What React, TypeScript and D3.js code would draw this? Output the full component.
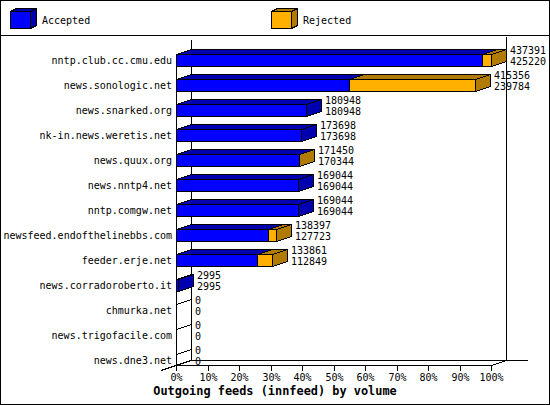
import React from "react";
import * as d3 from "d3";

// Outgoing innfeed peers, ordered by offered volume
const categories = [
  "nntp.club.cc.cmu.edu",
  "news.sonologic.net",
  "news.snarked.org",
  "nk-in.news.weretis.net",
  "news.quux.org",
  "news.nntp4.net",
  "nntp.comgw.net",
  "newsfeed.endofthelinebbs.com",
  "feeder.erje.net",
  "news.corradoroberto.it",
  "chmurka.net",
  "news.trigofacile.com",
  "news.dne3.net",
];
const offered = [437391, 415356, 180948, 173698, 171450, 169044, 169044, 138397, 133861, 2995, 0, 0, 0];
const accepted = [425220, 239784, 180948, 173698, 170344, 169044, 169044, 127723, 112849, 2995, 0, 0, 0];
const percentTicks = [0, 10, 20, 30, 40, 50, 60, 70, 80, 90, 100];
const seriesNames = ["Accepted", "Rejected"];

const W = 550;
const H = 405;
const FONT = "'DejaVu Sans Mono', 'Liberation Mono', monospace";
const BLUE = "#0000ff";
const BLUE_DARK = "#0000b0";
const ORANGE = "#ffb000";
const ORANGE_DARK = "#b07b00";

// depth of the 3D projection
const DX = 15;
const DY = 5;

const x0 = 176;
const x1 = 491;
const floorY = 365;

const maxVal = d3.max(offered) as number;
const pct = d3.scaleLinear().domain([0, 100]).range([x0, x1]);
const xv = (v: number) => pct((v / maxVal) * 100);
const y = d3.scalePoint<string>().domain(categories).range([60, 360]);

function pts(p: [number, number][]) {
  return p.map((q) => q.join(",")).join(" ");
}

function Box({ xa, xb, yt, yb, front, dark }: { xa: number; xb: number; yt: number; yb: number; front: string; dark: string }) {
  return (
    <g stroke="#000" strokeWidth={1} strokeLinejoin="miter">
      <polygon points={pts([[xa, yt], [xb, yt], [xb + DX, yt - DY], [xa + DX, yt - DY]])} fill={dark} />
      <polygon points={pts([[xb, yt], [xb, yb], [xb + DX, yb - DY], [xb + DX, yt - DY]])} fill={dark} />
      <rect x={xa} y={yt} width={Math.max(0, xb - xa)} height={yb - yt} fill={front} />
    </g>
  );
}

function Cube({ x, yTop, fill, dark }: { x: number; yTop: number; fill: string; dark: string }) {
  const w = 20;
  const h = 17;
  const dx = 6;
  const dy = 3;
  return (
    <g stroke="#000" strokeWidth={1}>
      <polygon points={pts([[x, yTop], [x + w, yTop], [x + w + dx, yTop - dy], [x + dx, yTop - dy]])} fill={dark} />
      <polygon points={pts([[x + w, yTop], [x + w, yTop + h], [x + w + dx, yTop + h - dy], [x + w + dx, yTop - dy]])} fill={dark} />
      <rect x={x} y={yTop} width={w} height={h} fill={fill} />
    </g>
  );
}

export default function App() {
  const rows = categories.map((c, i) => ({
    c,
    cy: Math.round(y(c) as number) + 0.5,
    off: offered[i],
    acc: accepted[i],
  }));

  return (
    <div style={{ position: "fixed", left: 0, top: 0 }}>
      <svg width={W} height={H} style={{ display: "block", background: "#fff" }} shapeRendering="crispEdges">
        <rect x={0.5} y={0.5} width={W - 1} height={H - 1} fill="#fff" stroke="#000" />
        <line x1={0} x2={W} y1={35.5} y2={35.5} stroke="#000" />

        {/* legend */}
        <Cube x={10.5} yTop={11.5} fill={BLUE} dark={BLUE_DARK} />
        <text x={42} y={24} fontFamily={FONT} fontSize={10} fill="#000">{seriesNames[0]}</text>
        <Cube x={271.5} yTop={11.5} fill={ORANGE} dark={ORANGE_DARK} />
        <text x={303} y={24} fontFamily={FONT} fontSize={10} fill="#000">{seriesNames[1]}</text>

        {/* walls and floor */}
        <g stroke="#000" strokeWidth={1}>
          <line x1={x0 + DX + 0.5} x2={x0 + DX + 0.5} y1={40} y2={floorY - DY + 0.5} />
          <line x1={x1 + DX + 0.5} x2={x1 + DX + 0.5} y1={37} y2={floorY - DY + 0.5} />
          <line x1={x0 + DX} x2={528} y1={floorY - DY + 0.5} y2={floorY - DY + 0.5} />
          <line x1={x0 - DX} y1={floorY + DY + 0.5} x2={x0 + DX} y2={floorY - DY + 0.5} />
          <line x1={x0 + 0.5} x2={x0 + 0.5} y1={rows[0].cy - 6} y2={floorY + DY + 0.5} />
          <line x1={x0} x2={x1 + 0.5} y1={floorY + 0.5} y2={floorY + 0.5} />
          <line x1={x1 + 0.5} y1={floorY + 0.5} x2={x1 + DX + 0.5} y2={floorY - DY + 0.5} />
          {percentTicks.map((t) => (
            <line key={t} x1={Math.round(pct(t)) + 0.5} x2={Math.round(pct(t)) + 0.5} y1={floorY} y2={floorY + 5.5} />
          ))}
        </g>
        {percentTicks.map((t) => (
          <text key={t} x={Math.round(pct(t)) + 0.5} y={381} textAnchor="middle" fontFamily={FONT} fontSize={10} fill="#000">
            {t}%
          </text>
        ))}

        {/* bars */}
        {rows.map((r) => {
          const xa = Math.round(xv(r.acc)) + 0.5;
          const xt = Math.round(xv(r.off)) + 0.5;
          const yt = r.cy - 6;
          const yb = r.cy + 6;
          return (
            <g key={r.c}>
              {r.off > 0 ? (
                <>
                  <Box xa={x0 + 0.5} xb={xa} yt={yt} yb={yb} front={BLUE} dark={BLUE_DARK} />
                  {r.off > r.acc && <Box xa={xa} xb={xt} yt={yt} yb={yb} front={ORANGE} dark={ORANGE_DARK} />}
                </>
              ) : (
                <line x1={x0 + 0.5} y1={yt} x2={x0 + DX + 0.5} y2={yt - DY} stroke="#000" />
              )}
              <text x={172} y={r.cy + 3.5} textAnchor="end" fontFamily={FONT} fontSize={10} fill="#000">
                {r.c}
              </text>
              <text x={Math.round(xv(r.off)) + 19} y={r.cy - 7} fontFamily={FONT} fontSize={10} fill="#000">
                {r.off}
              </text>
              <text x={Math.round(xv(r.off)) + 19} y={r.cy + 4} fontFamily={FONT} fontSize={10} fill="#000">
                {r.acc}
              </text>
            </g>
          );
        })}

        <text x={275} y={395} textAnchor="middle" fontFamily={FONT} fontSize={11.9} fontWeight="bold" fill="#000">
          Outgoing feeds (innfeed) by volume
        </text>
      </svg>
    </div>
  );
}
